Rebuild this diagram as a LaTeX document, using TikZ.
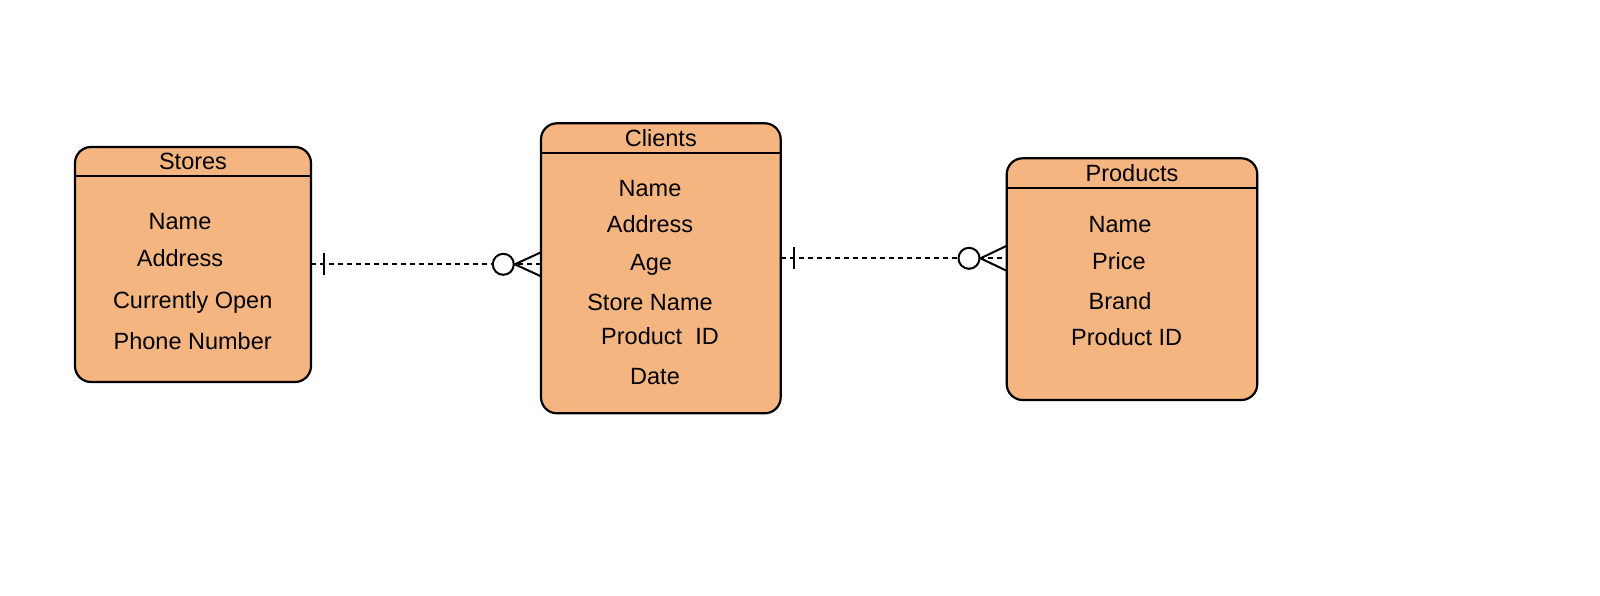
\documentclass[tikz,border=0pt]{standalone}
\usepackage{fontspec}
\setmainfont{Liberation Sans}
\definecolor{entfill}{RGB}{244,181,128}
\begin{document}
\begin{tikzpicture}[x=1pt,y=-1pt,
  entity/.style={draw=black, line width=2.2pt, fill=entfill, rounded corners=16pt, anchor=north west, inner sep=0pt, outer sep=0pt},
  txt/.style={font=\fontsize{23.5}{28}\selectfont, inner sep=0pt, text height=16.5pt, text depth=0pt},
  rel/.style={line width=2pt, dash pattern=on 5pt off 4pt},
  solidln/.style={line width=2pt},
  ring/.style={circle, draw=black, fill=white, line width=2pt, minimum size=21pt, inner sep=0pt}
]
\useasboundingbox (0,0) rectangle (1600,596);

% entities
\node[entity, minimum width=236pt, minimum height=235pt] (stores) at (75,147) {};
\node[entity, minimum width=239.7pt, minimum height=290pt] (clients) at (541,123.3) {};
\node[entity, minimum width=250.6pt, minimum height=241.7pt] (products) at (1006.7,158.3) {};

% header lines
\draw[solidln] ([yshift=-29.5pt]stores.north west) -- ([yshift=-29.5pt]stores.north east);
\draw[solidln] ([yshift=-29.5pt]clients.north west) -- ([yshift=-29.5pt]clients.north east);
\draw[solidln] ([yshift=-29.5pt]products.north west) -- ([yshift=-29.5pt]products.north east);

% titles
\node[txt] (storesT) at ([yshift=-14.7pt]stores.north) {Stores};
\node[txt] (clientsT) at ([yshift=-14.5pt]clients.north) {Clients};
\node[txt] (productsT) at ([yshift=-14.5pt]products.north) {Products};

% Stores attributes
\node[txt] (s1) at (180,221.7) {Name};
\node[txt] (s2) at (180,258.3) {Address};
\node[txt] (s3) at (192.7,300) {Currently Open};
\node[txt] (s4) at (192.7,341.7) {Phone Number};

% Clients attributes
\node[txt] (c1) at (650,188.3) {Name};
\node[txt] (c2) at (650,224) {Address};
\node[txt] (c3) at (651,262.7) {Age};
\node[txt] (c4) at (650,302.3) {Store Name};
\node[txt] (c5) at (660,336) {Product\ \ ID};
\node[txt] (c6) at (655,376.7) {Date};

% Products attributes
\node[txt] (p1) at (1120,224) {Name};
\node[txt] (p2) at (1119,261.7) {Price};
\node[txt] (p3) at (1120,301) {Brand};
\node[txt] (p4) at (1126.7,337.3) {Product ID};

% relationship 1: Stores -- Clients
\coordinate (r1) at (0,264.3);
\coordinate (b1) at (324,264.3);
\draw[rel] (stores.east |- r1) -- (clients.west |- r1);
\draw[solidln] ([yshift=11pt]b1) -- ([yshift=-11pt]b1);
\node[ring] (ring1) at (503.3,264.3) {};
\draw[solidln] (ring1.east) -- ([yshift=12pt]clients.west |- r1);
\draw[solidln] (ring1.east) -- ([yshift=-12pt]clients.west |- r1);

% relationship 2: Clients -- Products
\coordinate (r2) at (0,258.3);
\coordinate (b2) at (794,258.3);
\draw[rel] (clients.east |- r2) -- (products.west |- r2);
\draw[solidln] ([yshift=11pt]b2) -- ([yshift=-11pt]b2);
\node[ring] (ring2) at (969,258.3) {};
\draw[solidln] (ring2.east) -- ([yshift=12.5pt]products.west |- r2);
\draw[solidln] (ring2.east) -- ([yshift=-12.5pt]products.west |- r2);
\end{tikzpicture}
\end{document}
